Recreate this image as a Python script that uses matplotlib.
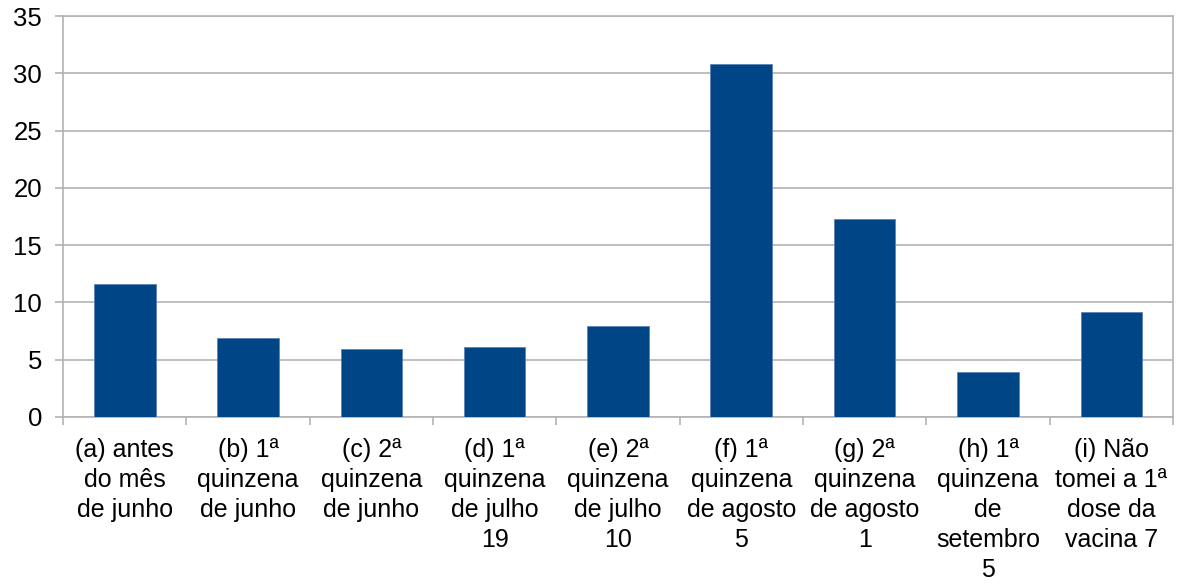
import matplotlib
matplotlib.use("Agg")
import matplotlib.pyplot as plt
import numpy as np

categories = [
    "(a) antes\ndo mês\nde junho",
    "(b) 1ª\nquinzena\nde junho",
    "(c) 2ª\nquinzena\nde junho",
    "(d) 1ª\nquinzena\nde julho\n19",
    "(e) 2ª\nquinzena\nde julho\n10",
    "(f) 1ª\nquinzena\nde agosto\n5",
    "(g) 2ª\nquinzena\nde agosto\n1",
    "(h) 1ª\nquinzena\nde\nsetembro\n5",
    "(i) Não\ntomei a 1ª\ndose da\nvacina 7",
]
values = [11.6, 6.9, 5.9, 6.1, 7.9, 30.8, 17.3, 3.9, 9.2]
yticks = [0, 5, 10, 15, 20, 25, 30, 35]

plt.rcParams['font.family'] = ['Liberation Sans', 'DejaVu Sans']

fig = plt.figure(figsize=(11.83, 5.88), dpi=100)
ax = fig.add_axes([63/1183, 1 - 417/588, (1173-63)/1183, (417-16)/588])

grid_col = '#b3b3b3'
x = np.arange(len(values))
ax.bar(x, values, width=0.5, color='#004586', edgecolor='#5b83b3', linewidth=0.6, zorder=3)

ax.set_xlim(-0.5, len(values) - 0.5)
ax.set_ylim(0, 35)
ax.set_yticks(yticks)
ax.yaxis.grid(True, color=grid_col, linewidth=1.2, zorder=0)
ax.set_axisbelow(True)

ax.set_xticks(x)
ax.set_xticklabels(categories, fontsize=18, linespacing=1.32)
ax.set_xticks(np.arange(-0.5, len(values)), minor=True)
ax.tick_params(axis='x', which='major', length=0, pad=15)
ax.tick_params(axis='x', which='minor', length=6, color=grid_col, width=1.2)
ax.tick_params(axis='y', which='major', length=6, color=grid_col, width=1.2, labelsize=18.5, pad=9)

for s in ax.spines.values():
    s.set_color(grid_col)
    s.set_linewidth(1.2)

fig.savefig("out.png", dpi=100)
